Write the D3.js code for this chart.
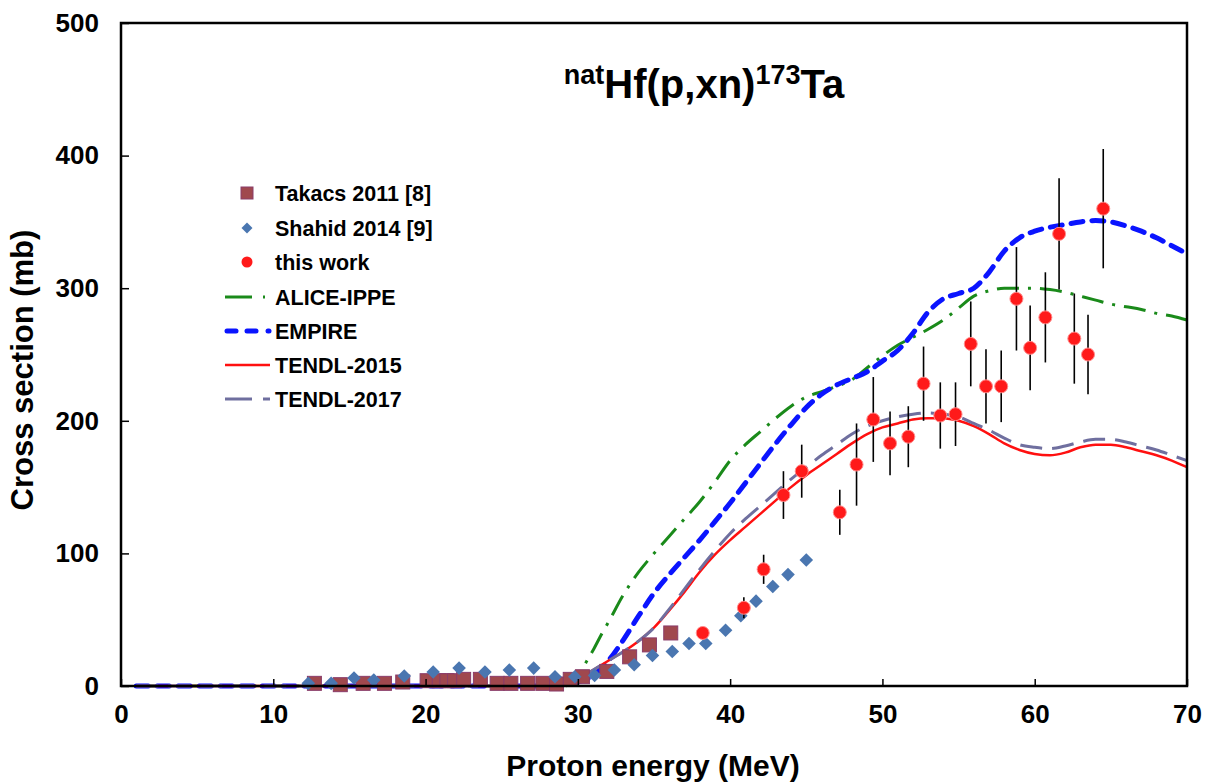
<!DOCTYPE html>
<html>
<head>
<meta charset="utf-8">
<script src="https://cdn.jsdelivr.net/npm/d3@7"></script>
<style>
  body { margin: 0; background: #fff; }
  text { font-family: "Liberation Sans", Arial, sans-serif; font-weight: bold; }
</style>
</head>
<body>
<script>

var w = 1209,
    h = 783;

// experimental data: [energy MeV, cross section mb]
var takacs = [[12.7,2],[14.4,1],[15.9,2],[17.3,2],[18.5,3],[20.1,4],[20.9,4],[21.4,4],[21.9,4],
    [22.5,5],[23.6,5],[24.7,2],[25.6,2],[26.7,2],[27.7,2],[28.6,1.5],[29.5,5],[30.3,7],
    [31.9,11],[33.4,22],[34.7,31],[36.1,40]];

var shahid = [[12.3,2],[13.8,2],[15.3,6],[16.6,4.5],[18.6,7.5],[20.5,10.5],[22.2,13.5],[23.9,10.5],
    [25.5,12],[27.1,13.5],[28.5,7],[29.8,7],[31.1,8],[32.4,12],[33.7,16],[34.9,23],[36.2,26],
    [37.3,32],[38.4,32],[39.7,42],[40.7,53],[41.7,64],[42.8,75],[43.8,84],[45.0,95]];

// this work: [energy, value, error]
var thisWork = [[38.2,40,4],[40.9,59,8],[42.2,88,11],[43.5,144,18],[44.7,162,20],[47.2,131,17],
    [48.3,167,31],[49.4,201,32],[50.5,183,24],[51.7,188,23],[52.7,228,28],[53.8,204,25],
    [54.8,205,24],[55.8,258,32],[56.8,226,28],[57.8,226,27],[58.8,292,39],[59.7,255,32],
    [60.7,278,34],[61.6,341,42],[62.6,262,34],[63.5,250,30],[64.5,360,45]];

// model calculations
var alice = [[1,0],[29,0],[29.5,1],[30,6],[30.5,17],[31,27],[31.6,40],[32,48],[33,69],[34,86],
    [35,100],[36,113],[37,126],[38,139],[39,154],[40,170],[41,182],[42,192],[43,202],[44,211],
    [45,218],[46,222],[47,226],[48,231],[49,240],[50,249],[51,257],[52,263],[53,269],[54,276],
    [55,285],[56,294],[57,298],[58,300],[59,300],[60,300],[61,299],[62,297],[63,294],[64,291],
    [65,288],[66,286],[67,284],[68,281],[69,279],[70,276]];

var empire = [[1,0],[28,0],[29,1],[30,3],[31,8],[32,19],[33,35],[34,53],[35,70],[36,84],[37,97],
    [38,110],[39,124],[40,138],[41,153],[42,168],[43,183],[44,197],[45,210],[46,220],[47,227],
    [48,232],[49,237],[50,245],[51,253],[52,266],[53,282],[54,292],[55,296],[56,300],[57,312],
    [58,328],[59,338],[60,343],[61,346],[62,348],[63,350],[64,351],[65,350],[66,347],[67,343],
    [68,338],[69,332],[70,326]];

var tendl15 = [[1,0],[28,0],[29,1],[30,5],[31,12],[32,19],[33,26],[34,34],[35,44],[36,57],[37,71],
    [38,86],[39,99],[40,110],[41,120],[42,130],[43,140],[44,150],[45,159],[46,167],[47,175],
    [48,183],[49,190],[50,195],[51,198],[52,201],[53,202],[54,202],[55,200],[56,196],[57,190],
    [58,183],[59,178],[60,175],[61,174],[62,176],[63,180],[64,182],[65,182],[66,180],[67,177],
    [68,174],[69,170],[70,165]];

var tendl17 = [[1,0],[28,0],[29,1],[30,5],[31,12],[32,19],[33,26],[34,34],[35,44],[36,58],[37,73],
    [38,88],[39,102],[40,115],[41,126],[42,136],[43,146],[44,156],[45,165],[46,174],[47,182],
    [48,190],[49,196],[50,200],[51,203],[52,205],[53,206],[54,205],[55,203],[56,198],[57,193],
    [58,187],[59,182],[60,180],[61,179],[62,181],[63,184],[64,186],[65,186],[66,184],[67,181],
    [68,178],[69,174],[70,170]];

var xTicks = [0, 10, 20, 30, 40, 50, 60, 70],
    yTicks = [0, 100, 200, 300, 400, 500];

var svg = d3.select('body')
    .append('svg')
    .attr('width', w)
    .attr('height', h);

var x = d3.scaleLinear().domain([0, 70]).range([121, 1187]);
var y = d3.scaleLinear().domain([0, 500]).range([686, 23]);

var line = d3.line()
    .x(function(d){ return x(d[0]); })
    .y(function(d){ return y(d[1]); })
    .curve(d3.curveMonotoneX);

// model curves
var curves = [
    {data: alice, color: '#1a8a1a', width: 3, dash: '22,9,3,9', cap: 'butt'},
    {data: empire, color: '#0a14ff', width: 5, dash: '12,9', cap: 'round'},
    {data: tendl15, color: '#ff1010', width: 2.5, dash: null, cap: 'butt'},
    {data: tendl17, color: '#6f6f9f', width: 3, dash: '22,10', cap: 'butt'}
];

svg.selectAll('path.curve')
    .data(curves)
    .enter()
    .append('path')
    .attr('class', 'curve')
    .attr('d', function(d){ return line(d.data); })
    .attr('fill', 'none')
    .attr('stroke', function(d){ return d.color; })
    .attr('stroke-width', function(d){ return d.width; })
    .attr('stroke-dasharray', function(d){ return d.dash; })
    .attr('stroke-linecap', function(d){ return d.cap; });

// Takacs squares
svg.selectAll('rect.takacs')
    .data(takacs)
    .enter()
    .append('rect')
    .attr('class', 'takacs')
    .attr('x', function(d){ return x(d[0]) - 7; })
    .attr('y', function(d){ return y(d[1]) - 7; })
    .attr('width', 14)
    .attr('height', 14)
    .attr('fill', '#a0484e')
    .attr('stroke', '#8a3c6a')
    .attr('stroke-width', 1);

// Shahid diamonds
var diamond = d3.symbol().type(d3.symbolSquare).size(92);
svg.selectAll('path.shahid')
    .data(shahid)
    .enter()
    .append('path')
    .attr('class', 'shahid')
    .attr('d', diamond)
    .attr('transform', function(d){ return 'translate(' + x(d[0]) + ',' + y(d[1]) + ') rotate(45)'; })
    .attr('fill', '#4a76b0');

// this work, error bars then dots
svg.selectAll('line.err')
    .data(thisWork)
    .enter()
    .append('line')
    .attr('class', 'err')
    .attr('x1', function(d){ return x(d[0]); })
    .attr('x2', function(d){ return x(d[0]); })
    .attr('y1', function(d){ return y(d[1] - d[2]); })
    .attr('y2', function(d){ return y(d[1] + d[2]); })
    .attr('stroke', '#000')
    .attr('stroke-width', 1.6);

svg.selectAll('circle.work')
    .data(thisWork)
    .enter()
    .append('circle')
    .attr('class', 'work')
    .attr('cx', function(d){ return x(d[0]); })
    .attr('cy', function(d){ return y(d[1]); })
    .attr('r', 6.5)
    .attr('fill', '#ff1a1a')
    .attr('stroke', '#ff8a8a')
    .attr('stroke-width', 1);

// axes frame
svg.append('rect')
    .attr('x', x(0))
    .attr('y', y(500))
    .attr('width', x(70) - x(0))
    .attr('height', y(0) - y(500))
    .attr('fill', 'none')
    .attr('stroke', '#000')
    .attr('stroke-width', 2.5);

var xAxis = d3.axisBottom(x).tickValues(xTicks).tickSize(-7).tickPadding(19);
var gx = svg.append('g')
    .attr('transform', 'translate(0,' + y(0) + ')')
    .call(xAxis);
gx.select('.domain').remove();
gx.selectAll('line').attr('stroke-width', 1.5);
gx.selectAll('text').attr('font-size', 26).attr('fill', '#000')
    .attr('font-family', '"Liberation Sans", Arial, sans-serif');

var yAxis = d3.axisLeft(y).tickValues(yTicks).tickSize(-8).tickPadding(22);
var gy = svg.append('g')
    .attr('transform', 'translate(' + x(0) + ',0)')
    .call(yAxis);
gy.select('.domain').remove();
gy.selectAll('line').attr('stroke-width', 1.5);
gy.selectAll('text').attr('font-size', 26).attr('fill', '#000')
    .attr('font-family', '"Liberation Sans", Arial, sans-serif');

// axis titles
svg.append('text')
    .attr('x', 653)
    .attr('y', 776)
    .attr('text-anchor', 'middle')
    .attr('font-size', 30)
    .text('Proton energy (MeV)');

svg.append('text')
    .attr('transform', 'translate(33,370) rotate(-90)')
    .attr('text-anchor', 'middle')
    .attr('font-size', 31)
    .text('Cross section (mb)');

// reaction title
var title = svg.append('text')
    .attr('x', 704)
    .attr('y', 98)
    .attr('text-anchor', 'middle')
    .attr('font-size', 40);
title.append('tspan').attr('font-size', 27).attr('dy', -14).text('nat');
title.append('tspan').attr('dy', 14).text('Hf(p,xn)');
title.append('tspan').attr('font-size', 27).attr('dy', -14).text('173');
title.append('tspan').attr('dy', 14).text('Ta');

// legend
var legend = svg.append('g').attr('class', 'legend');
var legendRows = [
    {label: 'Takacs 2011 [8]', type: 'square'},
    {label: 'Shahid 2014 [9]', type: 'diamond'},
    {label: 'this work', type: 'circle'},
    {label: 'ALICE-IPPE', type: 'line', curve: curves[0], segs: [[225,252],[263,265]]},
    {label: 'EMPIRE', type: 'line', curve: curves[1], segs: [[227,236],[247,256],[268,269]]},
    {label: 'TENDL-2015', type: 'line', curve: curves[2], segs: [[225,270]]},
    {label: 'TENDL-2017', type: 'line', curve: curves[3], segs: [[225,252],[263,270]]}
];
var rowY = [193, 228, 262, 297, 331, 365, 399];

legendRows.forEach(function(row, i){
    var cy = rowY[i];
    if (row.type == 'square') {
        legend.append('rect').attr('x', 241).attr('y', cy - 6).attr('width', 12).attr('height', 12)
            .attr('fill', '#a0484e').attr('stroke', '#8a3c6a');
    } else if (row.type == 'diamond') {
        legend.append('path').attr('d', d3.symbol().type(d3.symbolSquare).size(60))
            .attr('transform', 'translate(247,' + cy + ') rotate(45)').attr('fill', '#4a76b0');
    } else if (row.type == 'circle') {
        legend.append('circle').attr('cx', 247).attr('cy', cy).attr('r', 5.5).attr('fill', '#ff1a1a');
    } else {
        row.segs.forEach(function(s){
            legend.append('line').attr('x1', s[0]).attr('x2', s[1]).attr('y1', cy).attr('y2', cy)
                .attr('stroke', row.curve.color).attr('stroke-width', row.curve.width)
                .attr('stroke-linecap', row.curve.cap);
        });
    }
    legend.append('text')
        .attr('x', 275)
        .attr('y', cy + 7.5)
        .attr('font-size', 21.5)
        .text(row.label);
});

</script>
</body>
</html>
